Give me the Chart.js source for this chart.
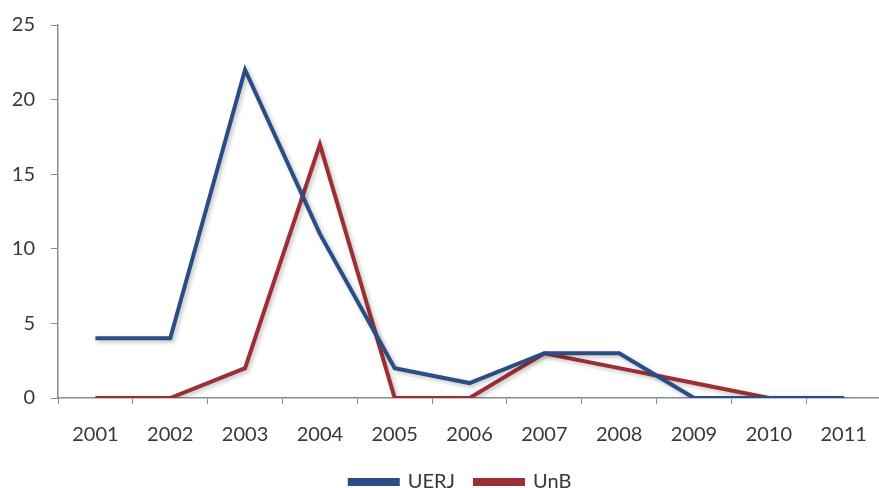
<!DOCTYPE html>
<html>
<head>
<meta charset="utf-8">
<script src="https://cdn.jsdelivr.net/npm/chart.js@4.4.0/dist/chart.umd.min.js"></script>
<style>
    html, body { margin: 0; padding: 0; background: #fff; overflow: hidden; }
    #wrap { position: absolute; left: 0; top: 0; width: 886px; height: 502px; }
</style>
</head>
<body>
<div id="wrap"><canvas id="chart"></canvas></div>
<script>
// Data
const years = ['2001', '2002', '2003', '2004', '2005', '2006', '2007', '2008', '2009', '2010', '2011'];
const uerj = [4, 4, 22, 11, 2, 1, 3, 3, 0, 0, 0];
const unb = [0, 0, 2, 17, 0, 0, 3, 2, 1, 0, 0];
const yTicks = [0, 5, 10, 15, 20, 25];

const axisColor = '#8c8c8c';
const textColor = '#383838';
const font = { family: 'Lato', size: 20 };

// soft drop shadow under each line, like the original
const shadowPlugin = {
    id: 'lineShadow',
    afterLayout(chart) {
        // nudge the legend a bit left, it sits off-centre in the original
        chart.legend.left -= 9;
        chart.legend.right -= 9;
    },
    beforeDatasetDraw(chart) {
        const ctx = chart.ctx;
        ctx.save();
        ctx.shadowColor = 'rgba(0, 0, 0, 0.25)';
        ctx.shadowBlur = 4;
        ctx.shadowOffsetX = 2;
        ctx.shadowOffsetY = 2;
    },
    afterDatasetDraw(chart) {
        chart.ctx.restore();
    }
};

new Chart(document.getElementById('chart'), {
    type: 'line',
    data: {
        labels: years,
        datasets: [
            {
                label: 'UERJ',
                data: uerj,
                borderColor: '#2a4d85',
                backgroundColor: '#2a4d85',
                borderWidth: 4,
                pointRadius: 0,
                tension: 0
            },
            {
                label: 'UnB',
                data: unb,
                borderColor: '#9b2f33',
                backgroundColor: '#9b2f33',
                borderWidth: 4,
                pointRadius: 0,
                tension: 0
            }
        ]
    },
    options: {
        responsive: true,
        maintainAspectRatio: false,
        animation: false,
        layout: {
            padding: { top: 25, left: 12, right: 3, bottom: 0 }
        },
        plugins: {
            legend: {
                position: 'bottom',
                fullSize: false,
                labels: {
                    boxWidth: 48,
                    boxHeight: 4,
                    padding: 20,
                    color: textColor,
                    font: font
                }
            },
            tooltip: { enabled: false }
        },
        scales: {
            x: {
                offset: true,
                afterFit: axis => {
                    axis.height = 54;
                },
                grid: {
                    drawOnChartArea: false,
                    offset: true,
                    color: axisColor,
                    tickLength: 6
                },
                border: { color: axisColor, width: 1.5 },
                ticks: {
                    color: textColor,
                    maxRotation: 0,
                    padding: 19,
                    font: font
                }
            },
            y: {
                min: 0,
                max: 25,
                afterBuildTicks: axis => {
                    axis.ticks = yTicks.map(v => ({ value: v }));
                },
                afterFit: axis => {
                    axis.width = 46;
                    axis.paddingTop = 0;
                    axis.paddingBottom = 0;
                },
                grid: {
                    drawOnChartArea: false,
                    color: axisColor,
                    tickLength: 7
                },
                border: { color: axisColor, width: 1.5 },
                ticks: {
                    color: textColor,
                    padding: 16,
                    font: font
                }
            }
        }
    },
    plugins: [shadowPlugin]
});
</script>
</body>
</html>
